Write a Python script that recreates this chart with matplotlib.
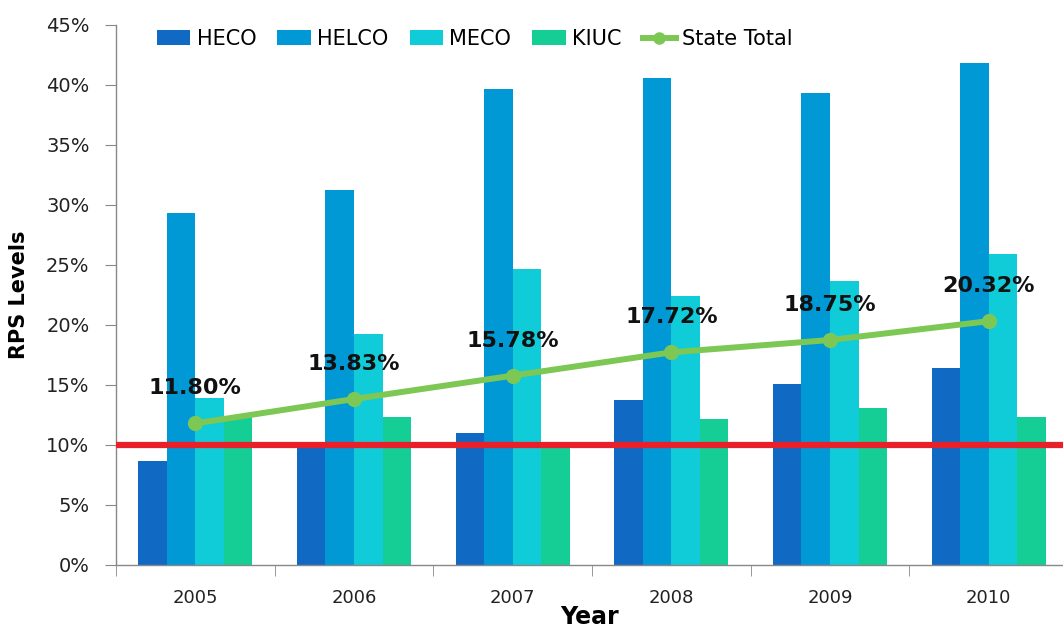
import matplotlib
matplotlib.use("Agg")
import matplotlib.pyplot as plt
import numpy as np
from matplotlib.lines import Line2D
from matplotlib.patches import Patch

years = ["2005", "2006", "2007", "2008", "2009", "2010"]
heco = [8.7, 9.9, 11.0, 13.75, 15.1, 16.45]
helco = [29.35, 31.25, 39.7, 40.55, 39.3, 41.8]
meco = [13.95, 19.25, 24.65, 22.45, 23.7, 25.95]
kiuc = [12.3, 12.3, 9.85, 12.2, 13.1, 12.3]
state_total = [11.80, 13.83, 15.78, 17.72, 18.75, 20.32]
rps_target = 10.0

series_names = ["HECO", "HELCO", "MECO", "KIUC"]
series_vals = [heco, helco, meco, kiuc]
colors = ["#106ac4", "#0099d6", "#10ccd8", "#14ce96"]
green = "#7dc855"
red = "#e8202a"

plt.rcParams['font.family'] = ['DejaVu Sans']

fig = plt.figure(figsize=(10.63, 6.28), dpi=100)
ax = fig.add_axes([116/1063, 1 - 565/628, 952/1063, 540/628])

x = np.arange(len(years))
w = 0.18
offsets = [-0.27, -0.09, 0.09, 0.27]
for vals, off, c in zip(series_vals, offsets, colors):
    ax.bar(x + off, vals, width=w, color=c, zorder=2)

ax.axhline(rps_target, color=red, lw=4.5, zorder=3)
ax.plot(x, state_total, color=green, lw=4.3, marker='o', markersize=10, zorder=4)
for xi, v in zip(x, state_total):
    ax.annotate(f"{v:.2f}%", (xi, v), xytext=(0, 35), textcoords='offset pixels',
                ha='center', va='center', fontsize=16, fontweight='bold', color='#111111', zorder=5)

ax.set_xlim(-0.5, 5.5)
ax.set_ylim(0, 45)
ax.set_yticks(np.arange(0, 46, 5))
ax.set_yticklabels([f"{int(t)}%" for t in np.arange(0, 46, 5)], fontsize=14, color='#222222')
ax.set_xticks(x)
ax.set_xticklabels(years, fontsize=13, color='#222222')
ax.set_xticks(np.arange(-0.5, 6.0, 1.0), minor=True)
ax.tick_params(axis='x', which='major', length=0, pad=17)
ax.tick_params(axis='x', which='minor', length=8, color='#888888', direction='out')
ax.tick_params(axis='y', length=8, color='#888888', pad=11)
for s in ['top', 'right']:
    ax.spines[s].set_visible(False)
for s in ['left', 'bottom']:
    ax.spines[s].set_color('#888888')
    ax.spines[s].set_linewidth(1.0)

ax.set_ylabel("RPS Levels", fontsize=15, fontweight='bold', labelpad=12)
fig.text(590/1063, 1 - 617/628, "Year", fontsize=17, fontweight='bold', ha='center', va='center')

handles = [Patch(facecolor=c) for c in colors] + \
          [Line2D([0], [0], color=green, lw=4.3, marker='o', markersize=8)]
labels = series_names + ["State Total"]
ax.legend(handles, labels, loc='upper left', bbox_to_anchor=(157/1063, 1 - 29/628),
          bbox_transform=fig.transFigure, ncol=5, frameon=False, fontsize=15,
          borderaxespad=0, borderpad=0, handlelength=1.6, handleheight=0.75,
          handletextpad=0.3, columnspacing=1.02)

fig.savefig("out.png", dpi=100)
